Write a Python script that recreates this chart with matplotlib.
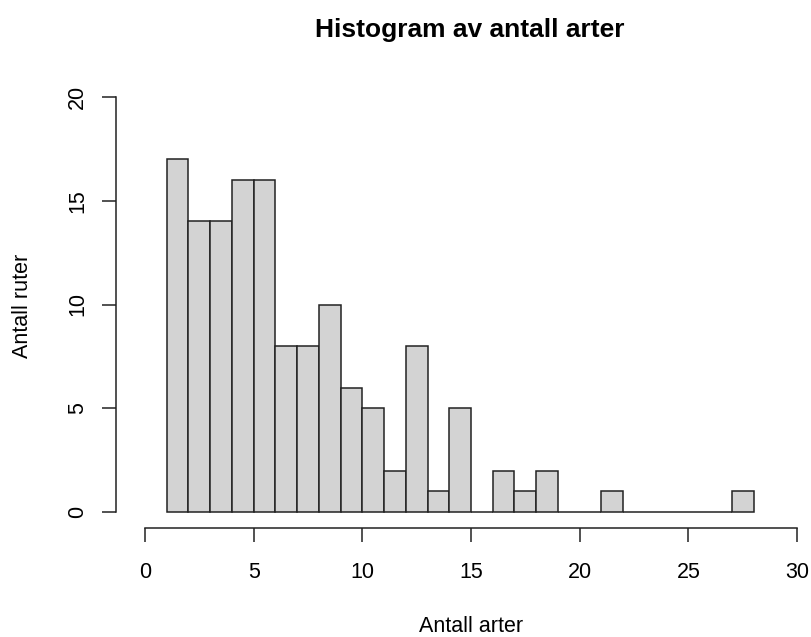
import matplotlib
matplotlib.use("Agg")
import numpy as np
from matplotlib import pyplot as plt

plt.rcParams['font.family'] = ['Liberation Sans', 'DejaVu Sans']

# histogram bins (left edges) and counts
breaks = [1, 2, 3, 4, 5, 6, 7, 8, 9, 10, 11, 12, 13, 14, 15, 16, 17, 18, 19,
          20, 21, 22, 23, 24, 25, 26, 27, 28]
counts = [17, 14, 14, 16, 16, 8, 8, 10, 6, 5, 2, 8, 1, 5, 0, 2, 1, 2, 0,
          0, 1, 0, 0, 0, 0, 0, 1]
xticks = [0, 5, 10, 15, 20, 25, 30]
yticks = [0, 5, 10, 15, 20]

W, H = 812, 637
fig = plt.figure(figsize=(W / 100, H / 100), dpi=100)

# pixel mapping: x=0 -> 145px, x=30 -> 797px ; y=0 -> 512px, y=20 -> 97px
sx = (797 - 145) / 30.0
sy = (512 - 97) / 20.0
left_px, right_px = 125, 812
top_px, bot_px = 80, 529
ax = fig.add_axes([left_px / W, 1 - bot_px / H,
                   (right_px - left_px) / W, (bot_px - top_px) / H])
ax.set_xlim((left_px - 145) / sx, (right_px - 145) / sx)
ax.set_ylim((512 - bot_px) / sy, (512 - top_px) / sy)

ax.bar(breaks[:-1], counts, width=np.diff(breaks), align='edge',
       color='#D3D3D3', edgecolor='#222222', linewidth=1.1)

for s in ['top', 'right']:
    ax.spines[s].set_visible(False)
ax.spines['left'].set_position(('data', (116 - 145) / sx))
ax.spines['left'].set_bounds(0, 20)
ax.spines['bottom'].set_position(('data', (512 - 528) / sy))
ax.spines['bottom'].set_bounds(0, 30)
for s in ['left', 'bottom']:
    ax.spines[s].set_color('#222222')
    ax.spines[s].set_linewidth(1.1)

ax.set_xticks(xticks)
ax.set_yticks(yticks)
ax.set_yticklabels([str(v) for v in yticks], rotation=90, va='center')
ax.tick_params(length=10.2, width=1.1, color='#222222', labelsize=15.5)
ax.tick_params(axis='x', pad=14)
ax.tick_params(axis='y', pad=10)

fig.text(470 / W, 1 - 37 / H, 'Histogram av antall arter', ha='center',
         va='baseline', fontsize=19, fontweight='bold')
fig.text(471 / W, 1 - 632 / H, 'Antall arter', ha='center', va='baseline',
         fontsize=15.5)
fig.text(23 / W, 1 - 306 / H, 'Antall ruter', ha='center', va='center',
         rotation=90, fontsize=15.5)

fig.savefig('out.png', dpi=100)
